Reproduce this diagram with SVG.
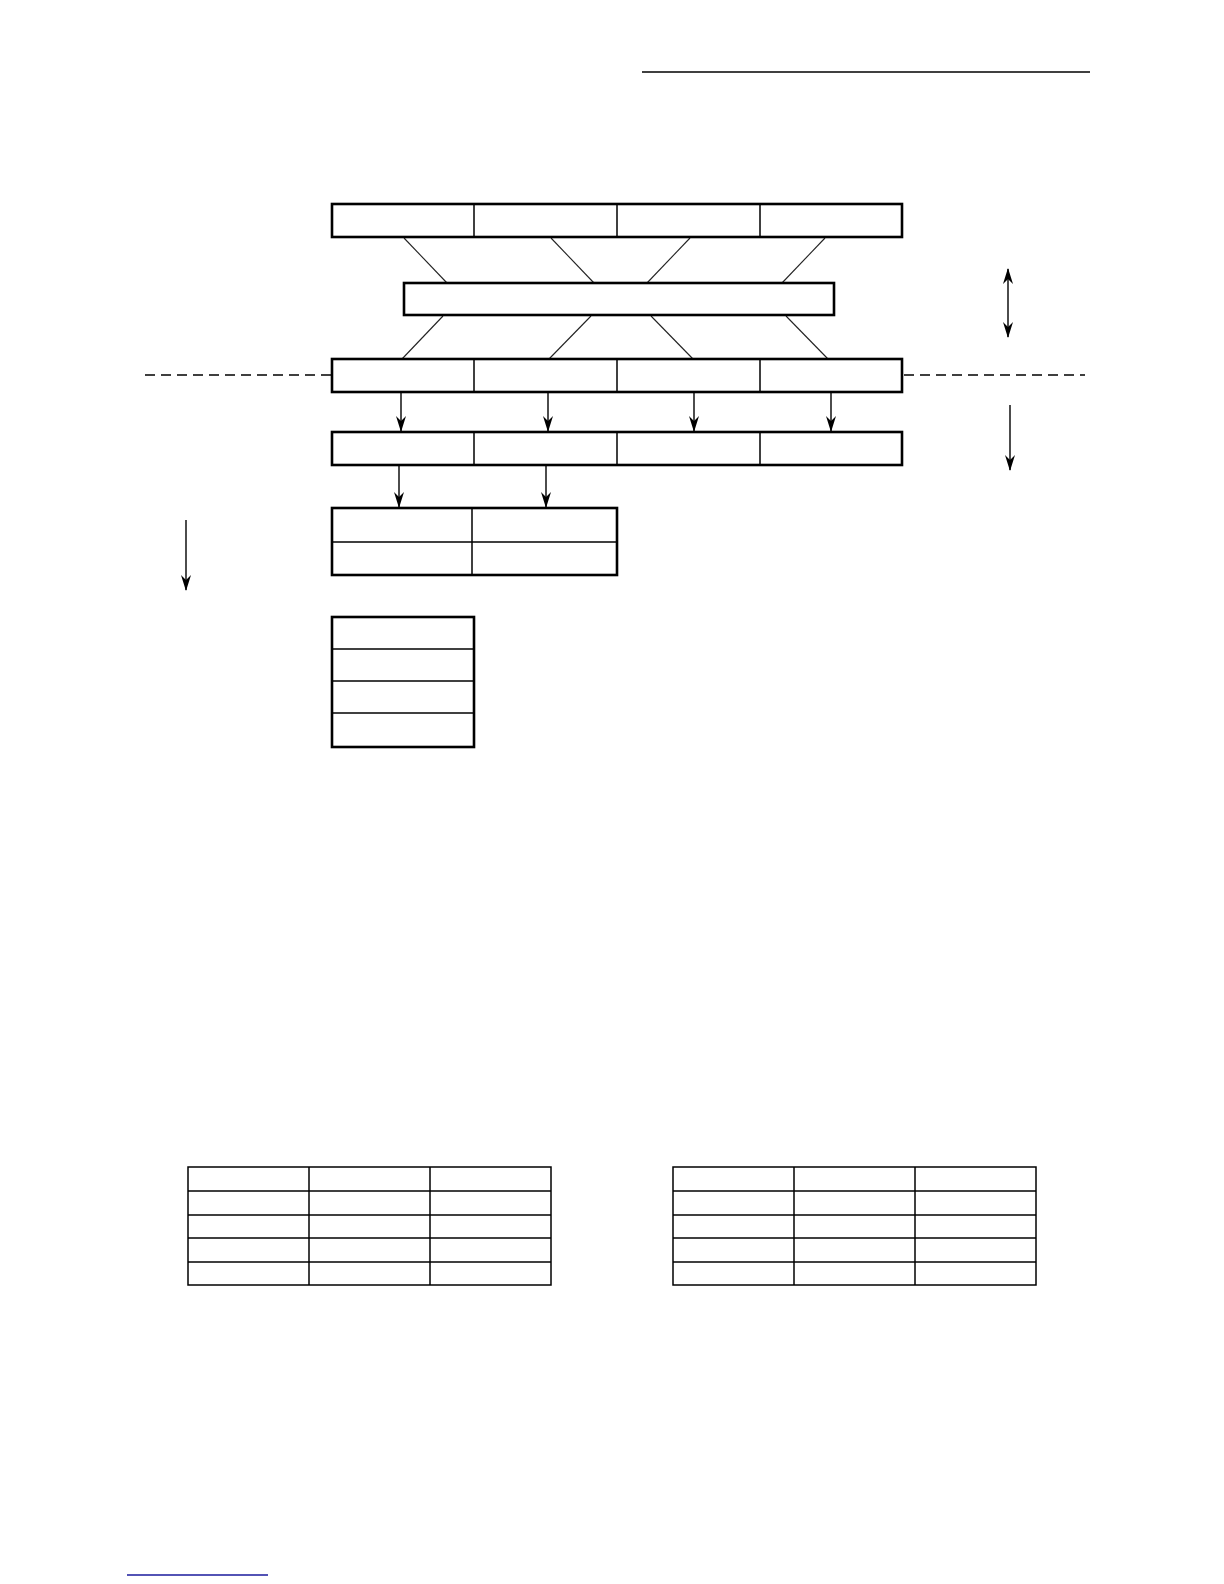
<svg xmlns="http://www.w3.org/2000/svg" width="1224" height="1584" viewBox="0 0 1224 1584">
<style>
.box{fill:#fff;stroke:#000;stroke-width:2.6}
.div{stroke:#000;stroke-width:1.5;fill:none}
.thin{stroke:#222;stroke-width:1.1;fill:none}
.arr{stroke:#000;stroke-width:1.4;fill:none;marker-end:url(#ah)}
.tbl{fill:none;stroke:#000;stroke-width:1.5}
</style>
<defs>
<marker id="ah" viewBox="0 0 16 12" refX="15" refY="6" markerWidth="16" markerHeight="12" markerUnits="userSpaceOnUse" orient="auto-start-reverse">
<path d="M0,1 L16,6 L0,11 L5,6 Z" fill="#000"/>
</marker>
</defs>
<rect width="1224" height="1584" fill="#fff"/>
<line x1="642" y1="72" x2="1090" y2="72" stroke="#000" stroke-width="1.5"/>
<g id="connectors">
<line class="thin" x1="404" y1="238" x2="447" y2="283"/>
<line class="thin" x1="551" y1="238" x2="594" y2="283"/>
<line class="thin" x1="690" y1="238" x2="647" y2="283"/>
<line class="thin" x1="825" y1="238" x2="782" y2="283"/>
<line class="thin" x1="443" y1="316" x2="402" y2="359"/>
<line class="thin" x1="591" y1="316" x2="549" y2="359"/>
<line class="thin" x1="651" y1="316" x2="693" y2="359"/>
<line class="thin" x1="786" y1="316" x2="828" y2="359"/>
<line class="arr" x1="401" y1="393" x2="401" y2="431"/>
<line class="arr" x1="548" y1="393" x2="548" y2="431"/>
<line class="arr" x1="694" y1="393" x2="694" y2="431"/>
<line class="arr" x1="831" y1="393" x2="831" y2="431"/>
<line class="arr" x1="399" y1="466" x2="399" y2="507"/>
<line class="arr" x1="546" y1="466" x2="546" y2="507"/>
<line class="arr" x1="186" y1="520" x2="186" y2="590"/>
<line class="arr" x1="1008" y1="269" x2="1008" y2="337" style="marker-start:url(#ah)"/>
<line class="arr" x1="1010" y1="405" x2="1010" y2="470"/>
<line x1="145" y1="375" x2="331" y2="375" stroke="#000" stroke-width="1.3" stroke-dasharray="10,6"/>
<line x1="904" y1="375" x2="1085" y2="375" stroke="#000" stroke-width="1.3" stroke-dasharray="10,6"/>
</g>
<g id="row1">
<rect class="box" x="332" y="204" width="570" height="33"/>
<line class="div" x1="474" y1="204" x2="474" y2="237"/>
<line class="div" x1="617" y1="204" x2="617" y2="237"/>
<line class="div" x1="760" y1="204" x2="760" y2="237"/>
</g>
<g id="bar">
<rect class="box" x="404" y="283" width="430" height="32"/>
</g>
<g id="row3">
<rect class="box" x="332" y="359" width="570" height="33"/>
<line class="div" x1="474" y1="359" x2="474" y2="392"/>
<line class="div" x1="617" y1="359" x2="617" y2="392"/>
<line class="div" x1="760" y1="359" x2="760" y2="392"/>
</g>
<g id="row4">
<rect class="box" x="332" y="432" width="570" height="33"/>
<line class="div" x1="474" y1="432" x2="474" y2="465"/>
<line class="div" x1="617" y1="432" x2="617" y2="465"/>
<line class="div" x1="760" y1="432" x2="760" y2="465"/>
</g>
<g id="grid2x2">
<rect class="box" x="332" y="508" width="285" height="67"/>
<line class="div" x1="472" y1="508" x2="472" y2="575"/>
<line class="div" x1="332" y1="542" x2="617" y2="542"/>
</g>
<g id="stack4">
<rect class="box" x="332" y="617" width="142" height="130"/>
<line class="div" x1="332" y1="649" x2="474" y2="649"/>
<line class="div" x1="332" y1="681" x2="474" y2="681"/>
<line class="div" x1="332" y1="713" x2="474" y2="713"/>
</g>
<g id="table-left">
<rect class="tbl" x="188" y="1167" width="363" height="118"/>
<line class="tbl" x1="309" y1="1167" x2="309" y2="1285"/>
<line class="tbl" x1="430" y1="1167" x2="430" y2="1285"/>
<line class="tbl" x1="188" y1="1191" x2="551" y2="1191"/>
<line class="tbl" x1="188" y1="1215" x2="551" y2="1215"/>
<line class="tbl" x1="188" y1="1238" x2="551" y2="1238"/>
<line class="tbl" x1="188" y1="1262" x2="551" y2="1262"/>
</g>
<g id="table-right">
<rect class="tbl" x="673" y="1167" width="363" height="118"/>
<line class="tbl" x1="794" y1="1167" x2="794" y2="1285"/>
<line class="tbl" x1="915" y1="1167" x2="915" y2="1285"/>
<line class="tbl" x1="673" y1="1191" x2="1036" y2="1191"/>
<line class="tbl" x1="673" y1="1215" x2="1036" y2="1215"/>
<line class="tbl" x1="673" y1="1238" x2="1036" y2="1238"/>
<line class="tbl" x1="673" y1="1262" x2="1036" y2="1262"/>
</g>
<line x1="127" y1="1575" x2="268" y2="1575" stroke="#1a1a9c" stroke-width="1.5"/>
</svg>
